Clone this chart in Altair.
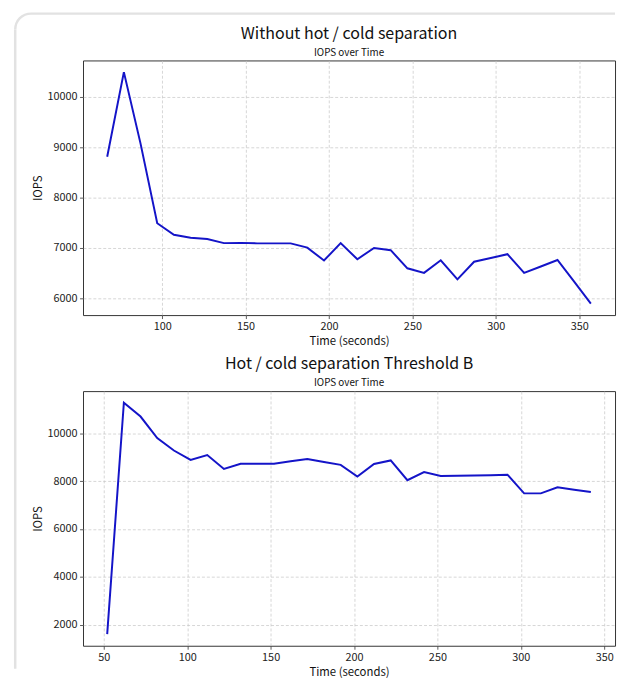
import altair as alt
import pandas as pd

# Top chart: without hot/cold separation
top_time = [67, 77, 87, 97, 107, 117, 127, 137, 147, 157, 167, 177, 187, 197, 207,
            217, 227, 237, 247, 257, 267, 277, 287, 297, 307, 317, 327, 337, 347, 357]
top_iops = [8810, 10490, 9070, 7490, 7260, 7200, 7175, 7095, 7100, 7090, 7090, 7090, 7005, 6750, 7095,
            6775, 7000, 6955, 6595, 6505, 6755, 6375, 6725, 6800, 6875, 6505, 6630, 6760, 6330, 5895]

# Bottom chart: hot/cold separation threshold B
bot_time = [52, 62, 72, 82, 92, 102, 112, 122, 132, 142, 152, 162, 172, 182, 192,
            202, 212, 222, 232, 242, 252, 262, 272, 282, 292, 302, 312, 322, 332, 342]
bot_iops = [1610, 11280, 10700, 9800, 9280, 8890, 9090, 8510, 8730, 8730, 8730, 8830, 8930, 8800, 8680,
            8190, 8720, 8865, 8040, 8380, 8220, 8230, 8240, 8250, 8270, 7490, 7490, 7745, 7640, 7545]

top_xticks = [100, 150, 200, 250, 300, 350]
top_yticks = [6000, 7000, 8000, 9000, 10000]
bot_xticks = [50, 100, 150, 200, 250, 300, 350]
bot_yticks = [2000, 4000, 6000, 8000, 10000]

FONT = "Noto Sans CJK KR"
LINE_COLOR = "#1414c8"
CARD = "#e2e2e2"
W, H = 539, 258
GAP = 77


def panel(times, vals, xticks, yticks, xdom, ydom, title):
    df = pd.DataFrame({"t": times, "v": vals})
    return alt.Chart(df).mark_line(color=LINE_COLOR, strokeWidth=2, clip=True).encode(
        x=alt.X("t:Q",
                scale=alt.Scale(domain=xdom, nice=False, zero=False),
                axis=alt.Axis(values=xticks, title="Time (seconds)", format="d")),
        y=alt.Y("v:Q",
                scale=alt.Scale(domain=ydom, nice=False, zero=False),
                axis=alt.Axis(values=yticks, title="IOPS", format="d")),
    ).properties(
        width=W, height=H,
        title=alt.TitleParams(text=title, subtitle="IOPS over Time", frame="group"),
    )


# decorative screenshot-card frame (left edge, top edge, rounded top-left corner),
# drawn from a thin empty strip placed above the two charts
dummy = pd.DataFrame({"k": [0]})
card_top = alt.Chart(dummy).mark_rule(color=CARD, strokeWidth=2.5).encode(
    x=alt.value(-52.7), x2=alt.value(W), y=alt.value(1.25)
)
card_left = alt.Chart(dummy).mark_rule(color=CARD, strokeWidth=2.5).encode(
    x=alt.value(-68.7), y=alt.value(17.25), y2=alt.value(665)
)
card_corner = alt.Chart(dummy).mark_arc(
    color=CARD, radius=17.25, radius2=14.75, theta=4.7124, theta2=6.2832
).encode(x=alt.value(-52.7), y=alt.value(17.25))
card = alt.layer(card_top, card_left, card_corner).properties(
    width=W, height=1, view=alt.ViewBackground(strokeWidth=0)
)

top = panel(top_time, top_iops, top_xticks, top_yticks, [52.5, 371.5], [5666, 10722],
            "Without hot / cold separation")
bot = panel(bot_time, bot_iops, bot_xticks, bot_yticks, [37.5, 356.5], [1123, 11763],
            "Hot / cold separation Threshold B")

charts = alt.vconcat(top, bot, spacing=GAP, bounds="flush")

chart = alt.vconcat(card, charts, spacing=47.7, bounds="flush").properties(
    padding={"left": 6, "top": 0, "right": 0, "bottom": 0},
    background="white",
).configure_view(
    stroke="#333333", strokeWidth=1
).configure_axis(
    domain=False,
    grid=True,
    gridColor="#c4c4c4",
    gridDash=[3, 2],
    gridWidth=0.7,
    ticks=True,
    tickColor="#333333",
    tickSize=3.5,
    tickWidth=0.8,
    labelFont=FONT,
    labelFontSize=11,
    labelColor="#222222",
    labelPadding=2.5,
    titleFont=FONT,
    titleFontSize=11.5,
    titleFontWeight="normal",
    titleColor="#111111",
    titlePadding=4,
).configure_title(
    font=FONT,
    fontSize=16.2,
    fontWeight="normal",
    color="#111111",
    anchor="middle",
    subtitleFont=FONT,
    subtitleFontSize=10,
    subtitleColor="#111111",
    subtitlePadding=6,
    offset=3,
)

chart.save("out.html", embed_options={"renderer": "svg", "actions": False})
